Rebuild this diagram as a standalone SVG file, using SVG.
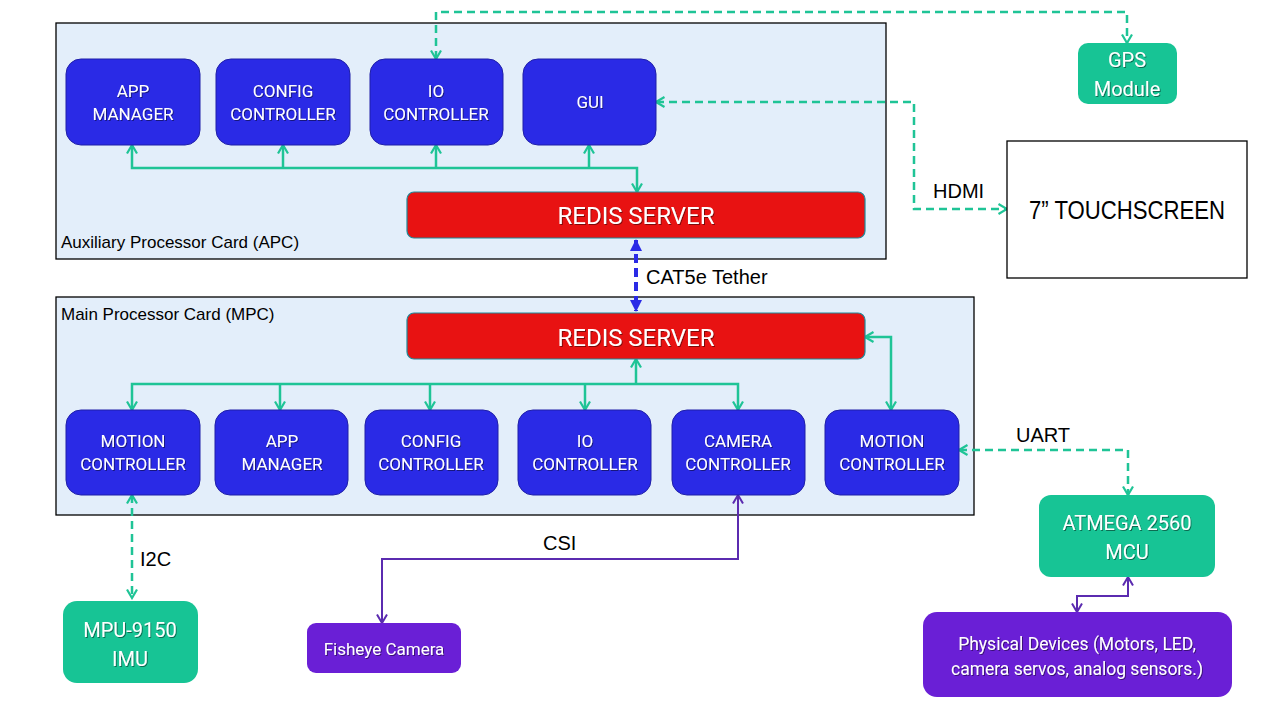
<svg xmlns="http://www.w3.org/2000/svg" width="1280" height="720" viewBox="0 0 1280 720">
<style>
.card{fill:#e3eefa;stroke:#000;stroke-width:1.3}
.blue{fill:#2a2ae6;stroke:#1f1fa8;stroke-width:1}
.red{fill:#e81212;stroke:#1e8a9a;stroke-width:1.2}
.green{fill:#17c495}
.purple{fill:#6a1fd6}
.nt{font-family:Roboto,"Liberation Sans",sans-serif;fill:#fff;text-anchor:middle;filter:url(#sh)}
.lbl{font-family:"Liberation Sans",Arial,sans-serif;fill:#000}
.g{fill:none;stroke:#1fc496;stroke-width:2.5}
.gd{fill:none;stroke:#1fc496;stroke-width:2.5;stroke-dasharray:8 5}
.p{fill:none;stroke:#5b2bb0;stroke-width:2}
.b{fill:none;stroke:#2a2ae6;stroke-width:4;stroke-dasharray:9 5}
</style>
<defs>
<filter id="sh" x="-10%" y="-20%" width="120%" height="140%"><feDropShadow dx="1" dy="1" stdDeviation="0.6" flood-color="#000" flood-opacity="0.45"/></filter>
<marker id="ag" viewBox="0 0 12 12" refX="10.5" refY="6" markerWidth="12" markerHeight="12" markerUnits="userSpaceOnUse" orient="auto-start-reverse"><path d="M2,1 L10.5,6 L2,11" fill="none" stroke="#1fc496" stroke-width="2.2"/></marker>
<marker id="ap" viewBox="0 0 12 12" refX="10.5" refY="6" markerWidth="12" markerHeight="12" markerUnits="userSpaceOnUse" orient="auto-start-reverse"><path d="M2,1 L10.5,6 L2,11" fill="none" stroke="#5b2bb0" stroke-width="2"/></marker>
<marker id="ab" viewBox="0 0 12 12" refX="11" refY="6" markerWidth="12" markerHeight="12" markerUnits="userSpaceOnUse" orient="auto-start-reverse"><path d="M0,0 L12,6 L0,12 Z" fill="#2a2ae6"/></marker>
</defs>

<g id="apc"><rect class="card" x="56" y="23" width="830" height="236"/><text class="lbl" x="61" y="248" font-size="17">Auxiliary Processor Card (APC)</text></g>
<g id="mpc"><rect class="card" x="56" y="297" width="918" height="218"/><text class="lbl" x="61" y="320" font-size="17">Main Processor Card (MPC)</text></g>

<g id="connectors">
<path class="g" d="M132,145 V168 H637 V192" marker-start="url(#ag)" marker-end="url(#ag)"/>
<path class="g" d="M283,168 V145" marker-end="url(#ag)"/>
<path class="g" d="M436,168 V145" marker-end="url(#ag)"/>
<path class="g" d="M589,168 V145" marker-end="url(#ag)"/>
<path class="gd" d="M436,59 V12 H1127 V43" marker-start="url(#ag)" marker-end="url(#ag)"/>
<path class="gd" d="M656,102 H914 V209 H1007" marker-start="url(#ag)" marker-end="url(#ag)"/>
<path class="b" d="M636,240 V311" marker-start="url(#ab)" marker-end="url(#ab)"/>
<path class="g" d="M132,410 V384 H738 V410" marker-start="url(#ag)" marker-end="url(#ag)"/>
<path class="g" d="M636,384 V359" marker-end="url(#ag)"/>
<path class="g" d="M280,384 V410" marker-end="url(#ag)"/>
<path class="g" d="M430,384 V410" marker-end="url(#ag)"/>
<path class="g" d="M585,384 V410" marker-end="url(#ag)"/>
<path class="g" d="M865,337 H891 V410" marker-start="url(#ag)" marker-end="url(#ag)"/>
<path class="gd" d="M959,450 H1128 V495" marker-start="url(#ag)" marker-end="url(#ag)"/>
<path class="gd" d="M132,495 V598" marker-start="url(#ag)" marker-end="url(#ag)"/>
<path class="p" d="M738,495 V559 H382 V623" marker-start="url(#ap)" marker-end="url(#ap)"/>
<path class="p" d="M1128,577 V596 H1077 V612" marker-start="url(#ap)" marker-end="url(#ap)"/>
<text class="lbl" x="646" y="284" font-size="20">CAT5e Tether</text>
<text class="lbl" x="933" y="198" font-size="20">HDMI</text>
<text class="lbl" x="1016" y="442" font-size="20">UART</text>
<text class="lbl" x="140" y="566" font-size="20">I2C</text>
<text class="lbl" x="543" y="550" font-size="20">CSI</text>
</g>

<g id="apc-app"><rect class="blue" x="66" y="59" width="134" height="86" rx="15"/><text class="nt" font-size="17"><tspan x="133" y="97">APP</tspan><tspan x="133" y="120">MANAGER</tspan></text></g>
<g id="apc-config"><rect class="blue" x="216" y="59" width="134" height="86" rx="15"/><text class="nt" font-size="17"><tspan x="283" y="97">CONFIG</tspan><tspan x="283" y="120">CONTROLLER</tspan></text></g>
<g id="apc-io"><rect class="blue" x="370" y="59" width="133" height="86" rx="15"/><text class="nt" font-size="17"><tspan x="436" y="97">IO</tspan><tspan x="436" y="120">CONTROLLER</tspan></text></g>
<g id="apc-gui"><rect class="blue" x="523" y="59" width="133" height="86" rx="15"/><text class="nt" font-size="17" x="590" y="108">GUI</text></g>
<g id="apc-redis"><rect class="red" x="407" y="192" width="458" height="46" rx="7"/><text class="nt" font-size="24" x="636" y="224">REDIS SERVER</text></g>

<g id="mpc-redis"><rect class="red" x="407" y="313" width="458" height="46" rx="7"/><text class="nt" font-size="24" x="636" y="346">REDIS SERVER</text></g>
<g id="mpc-motion1"><rect class="blue" x="66" y="410" width="134" height="85" rx="15"/><text class="nt" font-size="17"><tspan x="133" y="447">MOTION</tspan><tspan x="133" y="470">CONTROLLER</tspan></text></g>
<g id="mpc-app"><rect class="blue" x="215" y="410" width="133" height="85" rx="15"/><text class="nt" font-size="17"><tspan x="282" y="447">APP</tspan><tspan x="282" y="470">MANAGER</tspan></text></g>
<g id="mpc-config"><rect class="blue" x="365" y="410" width="133" height="85" rx="15"/><text class="nt" font-size="17"><tspan x="431" y="447">CONFIG</tspan><tspan x="431" y="470">CONTROLLER</tspan></text></g>
<g id="mpc-io"><rect class="blue" x="518" y="410" width="133" height="85" rx="15"/><text class="nt" font-size="17"><tspan x="585" y="447">IO</tspan><tspan x="585" y="470">CONTROLLER</tspan></text></g>
<g id="mpc-camera"><rect class="blue" x="672" y="410" width="133" height="85" rx="15"/><text class="nt" font-size="17"><tspan x="738" y="447">CAMERA</tspan><tspan x="738" y="470">CONTROLLER</tspan></text></g>
<g id="mpc-motion2"><rect class="blue" x="825" y="410" width="134" height="85" rx="15"/><text class="nt" font-size="17"><tspan x="892" y="447">MOTION</tspan><tspan x="892" y="470">CONTROLLER</tspan></text></g>

<g id="gps"><rect class="green" x="1078" y="43" width="99" height="61" rx="10"/><text class="nt" font-size="20"><tspan x="1127" y="67">GPS</tspan><tspan x="1127" y="96">Module</tspan></text></g>
<g id="touchscreen"><rect x="1007" y="141" width="240" height="137" fill="#fff" stroke="#000" stroke-width="1.3"/><text class="lbl" x="1127" y="219" font-size="25" text-anchor="middle" textLength="196" lengthAdjust="spacingAndGlyphs">7” TOUCHSCREEN</text></g>
<g id="atmega"><rect class="green" x="1039" y="495" width="176" height="82" rx="12"/><text class="nt" font-size="20"><tspan x="1127" y="530">ATMEGA 2560</tspan><tspan x="1127" y="559">MCU</tspan></text></g>
<g id="physical"><rect class="purple" x="923" y="612" width="309" height="85" rx="14"/><text class="nt" font-size="17.5"><tspan x="1077" y="650">Physical Devices (Motors, LED,</tspan><tspan x="1077" y="675">camera servos, analog sensors.)</tspan></text></g>
<g id="mpu"><rect class="green" x="63" y="601" width="135" height="82" rx="14"/><text class="nt" font-size="20"><tspan x="130" y="637">MPU-9150</tspan><tspan x="130" y="666">IMU</tspan></text></g>
<g id="fisheye"><rect class="purple" x="307" y="623" width="154" height="50" rx="9"/><text class="nt" font-size="17" x="384" y="655">Fisheye Camera</text></g>
</svg>
